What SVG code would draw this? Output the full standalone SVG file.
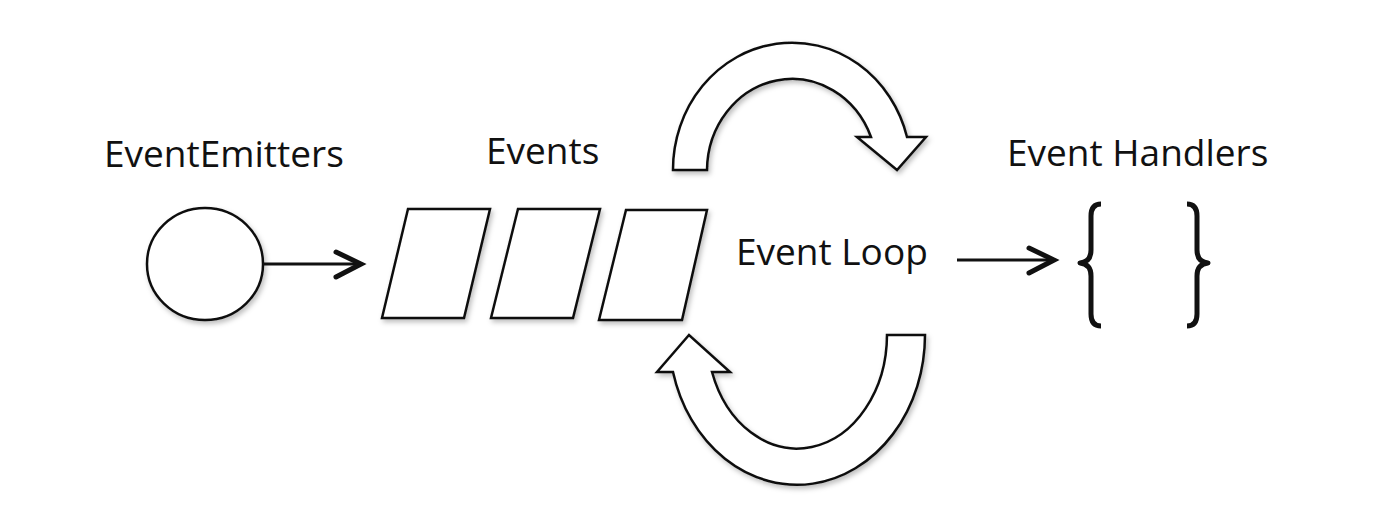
<svg xmlns="http://www.w3.org/2000/svg" width="1374" height="516" viewBox="0 0 1374 516">
<style>
.lbl{font-family:"Open Sans","Liberation Sans",sans-serif;font-size:37px;fill:#111;}
.shape{fill:#fff;stroke:#111;stroke-width:2.5;stroke-linejoin:miter;filter:url(#sh);}
.conn{fill:none;stroke:#111;stroke-width:3;}
.head{fill:none;stroke:#111;stroke-width:5;stroke-linecap:round;stroke-linejoin:miter;}
.brace{fill:none;stroke:#111;stroke-width:5;stroke-linecap:butt;stroke-linejoin:round;}
</style>
<defs>
<filter id="sh" x="-10%" y="-10%" width="130%" height="130%">
<feDropShadow dx="2" dy="3" stdDeviation="2.5" flood-color="#000" flood-opacity="0.25"/>
</filter>
</defs>
<rect width="1374" height="516" fill="#fff"/>
<g id="emitters">
<ellipse class="shape" cx="205" cy="264" rx="58" ry="56"/>
<text class="lbl" x="104" y="167">EventEmitters</text>
</g>
<g id="events">
<polygon class="shape" points="408,209 490,209 464,318 382,318"/>
<polygon class="shape" points="518,209 600,209 573,318 491,318"/>
<polygon class="shape" points="626,210 707,210 682,320 599,320"/>
<text class="lbl" x="486" y="164">Events</text>
</g>
<g id="loop">
<path class="shape" d="M 673 170 A 119 127 0 0 1 907 137 L 926 137 L 897 170 L 857 137 L 871 137 A 85 92 0 0 0 707 170 Z"/>
<path class="shape" d="M 925 335 A 128 150 0 0 1 673 372 L 657 372 L 689 335 L 730 372 L 712 372 A 90 114 0 0 0 887 335 Z"/>
<text class="lbl" x="736" y="265">Event Loop</text>
</g>
<g id="handlers">
<path class="brace" d="M 1101 204 Q 1091 204 1091 216 L 1091 250 Q 1091 262 1080 263 Q 1091 264 1091 276 L 1091 314 Q 1091 326 1101 326"/>
<path class="brace" d="M 1187 204 Q 1197 204 1197 216 L 1197 250 Q 1197 262 1208 263 Q 1197 264 1197 276 L 1197 314 Q 1197 326 1187 326"/>
<text class="lbl" x="1007" y="166">Event Handlers</text>
</g>
<g id="connectors">
<line class="conn" x1="263" y1="264" x2="360" y2="264"/>
<polyline class="head" points="336,252 361,264 336,277"/>
<line class="conn" x1="957" y1="260" x2="1053" y2="260"/>
<polyline class="head" points="1029,248 1054,260 1029,273"/>
</g>
</svg>
